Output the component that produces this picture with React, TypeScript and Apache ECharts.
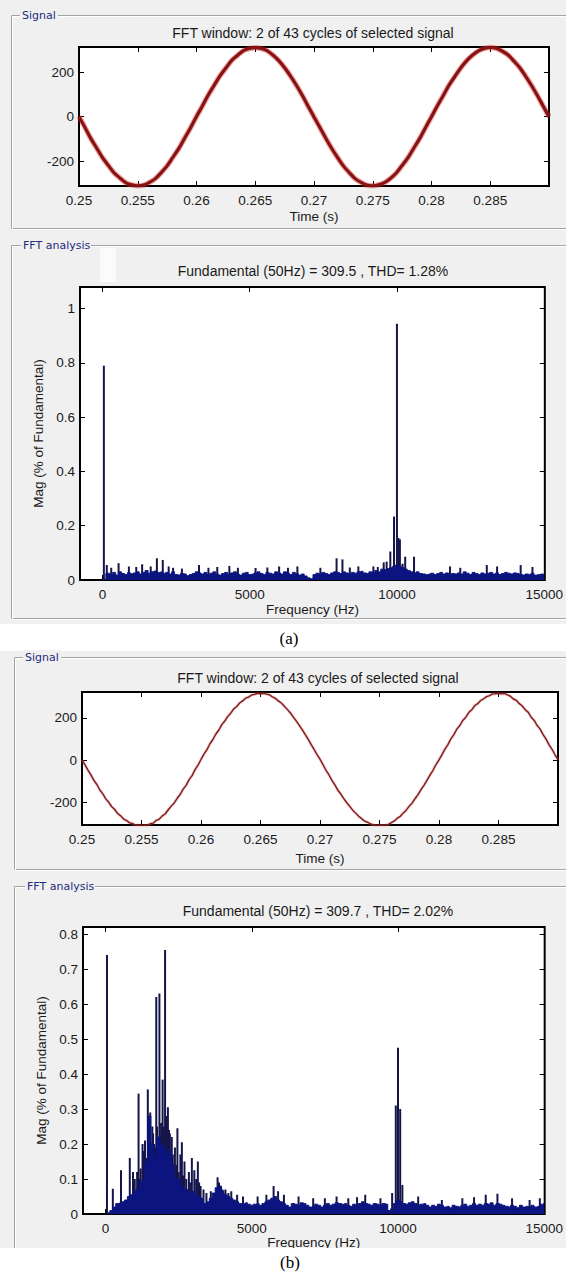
import React, { useEffect, useRef } from "react";
import * as echarts from "echarts";

// ---------- data ----------
const TIME_START = 0.25;
const TIME_STEP_A = 0.0005;
const TIME_STEP_B = 0.00025;
const TIME_TICKS = [0.25, 0.255, 0.26, 0.265, 0.27, 0.275, 0.28, 0.285];
const SIGNAL_TICKS = [-200, 0, 200];

// (a) signal, volts, one value every 0.5 ms from 0.25 s
const SIGNAL_A = [
  0, -47, -97, -140, -183, -218, -252, -275, -296, -305, -309,
  -306, -294, -277, -250, -220, -181, -142, -95, -49, 1,
  48, 97, 140, 183, 218, 252, 275, 296, 305, 309,
  305, 296, 276, 251, 219, 182, 141, 96, 47, -1,
  -48, -96, -141, -182, -220, -250, -277, -294, -306, -309,
  -305, -295, -276, -252, -218, -183, -140, -97, -48, 0,
  49, 95, 142, 181, 219, 251, 276, 295, 306, 310,
  306, 294, 277, 250, 220, 182, 141, 96, 48, 0,
];

// (b) signal, one value every 0.25 ms from 0.25 s
const SIGNAL_B = [
  2, -22, -46, -69, -95, -114, -140, -158, -182, -198, -219, -232, -251, -262, -277, -284, -295, -298, -306, -305, -309,
  -306, -307, -299, -296, -283, -277, -262, -252, -233, -216, -201, -179, -161, -136, -118, -91, -72, -44, -23, 4,
  29, 50, 78, 98, 124, 143, 168, 185, 207, 222, 242, 254, 270, 280, 293, 298, 308, 311, 316, 314,
  316, 312, 309, 299, 292, 280, 270, 255, 240, 224, 205, 186, 166, 145, 122, 100, 75, 52, 27, 5,
  -20, -47, -68, -95, -116, -141, -159, -181, -200, -217, -235, -249, -264, -275, -287, -292, -300, -305, -309, -306,
  -307, -305, -302, -294, -286, -273, -264, -248, -235, -216, -201, -180, -161, -137, -117, -93, -69, -47, -20, 2,
  27, 53, 74, 101, 121, 147, 164, 188, 203, 225, 238, 257, 267, 282, 290, 300, 305, 313, 314, 316,
  313, 315, 308, 302, 289, 283, 267, 256, 238, 226, 203, 188, 164, 147, 121, 100, 73, 52, 26, 3,
];

const FREQ_TICKS = [0, 5000, 10000, 15000];
const MAG_TICKS_A = [0, 0.2, 0.4, 0.6, 0.8, 1];
const MAG_TICKS_B = [0, 0.1, 0.2, 0.3, 0.4, 0.5, 0.6, 0.7, 0.8];

// spectrum floor, one value per 100 Hz bin starting at 100 Hz
const FLOOR_START = 100;
const FLOOR_STEP = 100;
const FLOOR_A = [
  0.022, 0.025, 0.02, 0.028, 0.018, 0.03, 0.024, 0.02, 0.027, 0.023,
  0.026, 0.03, 0.022, 0.028, 0.035, 0.025, 0.03, 0.033, 0.028, 0.03,
  0.025, 0.028, 0.022, 0.03, 0.02, 0.018, 0.024, 0.022, 0.016, 0.02,
  0.024, 0.03, 0.026, 0.022, 0.028, 0.02, 0.025, 0.03, 0.022, 0.018,
  0.024, 0.028, 0.02, 0.026, 0.03, 0.022, 0.018, 0.025, 0.028, 0.02,
  0.022, 0.026, 0.03, 0.024, 0.02, 0.028, 0.025, 0.022, 0.03, 0.026,
  0.022, 0.03, 0.026, 0.02, 0.028, 0.024, 0.018, 0.022, 0.015, 0.008,
  0.005, 0.02, 0.025, 0.022, 0.028, 0.024, 0.02, 0.026, 0.03, 0.028,
  0.024, 0.03, 0.026, 0.022, 0.028, 0.025, 0.03, 0.032, 0.026, 0.024,
  0.03, 0.028, 0.035, 0.03, 0.04, 0.038, 0.042, 0.045, 0.05, 0.055,
  0.05, 0.045, 0.04, 0.035, 0.03, 0.026, 0.03, 0.024, 0.022, 0.02,
  0.022, 0.025, 0.02, 0.024, 0.028, 0.022, 0.026, 0.02, 0.024, 0.022,
  0.026, 0.022, 0.03, 0.025, 0.02, 0.028, 0.024, 0.02, 0.026, 0.022,
  0.025, 0.028, 0.022, 0.026, 0.02, 0.024, 0.028, 0.025, 0.022, 0.026,
  0.024, 0.02, 0.018, 0.022, 0.02, 0.025, 0.018, 0.02, 0.022, 0.02,
];
const FLOOR_B = [
  0.005, 0.01, 0.02, 0.03, 0.032, 0.035, 0.04, 0.05, 0.055, 0.065,
  0.07, 0.09, 0.1, 0.15, 0.28, 0.2, 0.16, 0.22, 0.2, 0.19,
  0.17, 0.18, 0.14, 0.1, 0.1, 0.08, 0.07, 0.07, 0.06, 0.065,
  0.055, 0.05, 0.045, 0.03, 0.035, 0.045, 0.06, 0.075, 0.08, 0.065,
  0.055, 0.05, 0.045, 0.04, 0.035, 0.03, 0.03, 0.032, 0.028, 0.025,
  0.028, 0.03, 0.025, 0.03, 0.035, 0.04, 0.045, 0.05, 0.04, 0.035,
  0.03, 0.025, 0.02, 0.03, 0.028, 0.025, 0.032, 0.03, 0.025, 0.02,
  0.022, 0.028, 0.025, 0.02, 0.025, 0.03, 0.025, 0.028, 0.032, 0.03,
  0.028, 0.03, 0.025, 0.022, 0.028, 0.025, 0.03, 0.035, 0.03, 0.028,
  0.025, 0.03, 0.028, 0.025, 0.03, 0.028, 0.01, 0.015, 0.03, 0.04,
  0.035, 0.03, 0.028, 0.032, 0.035, 0.03, 0.025, 0.028, 0.03, 0.025,
  0.02, 0.025, 0.022, 0.028, 0.025, 0.02, 0.022, 0.018, 0.025, 0.022,
  0.02, 0.025, 0.028, 0.022, 0.025, 0.03, 0.025, 0.028, 0.025, 0.03,
  0.028, 0.032, 0.025, 0.03, 0.028, 0.025, 0.022, 0.02, 0.025, 0.022,
  0.018, 0.025, 0.02, 0.022, 0.02, 0.025, 0.02, 0.022, 0.028, 0.03,
];

// individual harmonic bars [frequency Hz, magnitude]
const SPIKES_A = [
  [50, 0.79], [150, 0.055], [300, 0.045], [550, 0.062], [900, 0.05], [1150, 0.048],
  [1350, 0.058], [1640, 0.05], [1850, 0.08], [2050, 0.074], [2250, 0.05], [2400, 0.045],
  [2700, 0.042], [3280, 0.055], [3600, 0.045], [3900, 0.048], [4310, 0.052], [4600, 0.045],
  [5200, 0.044], [5600, 0.046], [6000, 0.05], [6300, 0.045], [6620, 0.05], [7400, 0.045],
  [7950, 0.08], [8150, 0.076], [8400, 0.046], [8690, 0.05], [9200, 0.05], [9350, 0.048],
  [9550, 0.065], [9650, 0.068], [9775, 0.105], [9900, 0.234], [10000, 0.945], [10050, 0.155],
  [10100, 0.15], [10190, 0.06], [10280, 0.086], [10580, 0.086], [11800, 0.05], [12150, 0.045],
  [13050, 0.055], [13400, 0.05], [14200, 0.055], [14600, 0.048],
];
const SPIKES_B = [
  [50, 0.74], [250, 0.072], [530, 0.125], [830, 0.16], [940, 0.12], [1000, 0.1],
  [1080, 0.12], [1130, 0.344], [1170, 0.1], [1200, 0.13], [1265, 0.2], [1300, 0.18],
  [1350, 0.21], [1400, 0.16], [1446, 0.356], [1480, 0.2], [1530, 0.29], [1570, 0.17],
  [1600, 0.25], [1626, 0.23], [1660, 0.2], [1680, 0.16], [1700, 0.19], [1735, 0.62],
  [1760, 0.25], [1790, 0.22], [1843, 0.63], [1870, 0.22], [1900, 0.26], [1952, 0.384],
  [1980, 0.21], [2000, 0.25], [2036, 0.754], [2070, 0.28], [2100, 0.2], [2133, 0.305],
  [2170, 0.24], [2200, 0.23], [2265, 0.22], [2300, 0.17], [2373, 0.19], [2420, 0.14],
  [2458, 0.245], [2500, 0.12], [2560, 0.17], [2610, 0.205], [2650, 0.11], [2700, 0.15],
  [2760, 0.1], [2850, 0.12], [2900, 0.09], [2952, 0.16], [3036, 0.125], [3100, 0.1],
  [3157, 0.15], [3200, 0.09], [3250, 0.08], [3350, 0.07], [3450, 0.06], [3600, 0.065],
  [3700, 0.06], [3831, 0.105], [3880, 0.09], [3950, 0.08], [4000, 0.07], [4100, 0.07],
  [4200, 0.06], [4300, 0.065], [4500, 0.055], [4700, 0.05], [5200, 0.05], [5500, 0.055],
  [5747, 0.08], [5900, 0.065], [6100, 0.055], [6600, 0.05], [7100, 0.045], [7500, 0.045],
  [7900, 0.05], [8300, 0.045], [8600, 0.048], [8880, 0.055], [9400, 0.045], [9800, 0.06],
  [9925, 0.31], [10000, 0.475], [10075, 0.3], [10150, 0.083], [10690, 0.05], [11500, 0.04],
  [12200, 0.045], [12600, 0.048], [13000, 0.055], [13400, 0.058], [13900, 0.045], [14500, 0.04],
  [14850, 0.045],
];

// ---------- styling ----------
const FONT = "'Liberation Sans', Arial, Helvetica, sans-serif";
const PANEL_FONT = "'DejaVu Sans', Tahoma, sans-serif";
const FS = 13.5;
const TXT = "#1a1a1a";
const GRAY = "#f0f0f0";
const NAVY = "#0c1480";
const SPIKE = "#15154a";

const fmt = (v: number) => String(v);

function xMain(gridIndex: number, min: number, max: number, ticks: number[], name: string, nameGap: number) {
  return {
    type: "value", gridIndex, min, max, position: "bottom",
    name, nameLocation: "middle", nameGap,
    nameTextStyle: { fontFamily: FONT, fontSize: FS, color: TXT },
    axisLine: { show: false, onZero: false },
    axisTick: { show: true, inside: true, length: 5, customValues: ticks, lineStyle: { color: "#000", width: 1 } },
    axisLabel: { show: true, customValues: ticks, margin: 7, fontFamily: FONT, fontSize: FS, color: TXT, formatter: fmt },
    splitLine: { show: false },
  };
}
function xMirror(gridIndex: number, min: number, max: number, ticks: number[]) {
  return {
    type: "value", gridIndex, min, max, position: "top",
    axisLine: { show: false, onZero: false },
    axisTick: { show: true, inside: true, length: 5, customValues: ticks, lineStyle: { color: "#000", width: 1 } },
    axisLabel: { show: false },
    splitLine: { show: false },
  };
}
function yMain(gridIndex: number, min: number, max: number, ticks: number[], name: string, nameGap: number) {
  return {
    type: "value", gridIndex, min, max, position: "left",
    name, nameLocation: "middle", nameGap, nameRotate: 90,
    nameTextStyle: { fontFamily: FONT, fontSize: FS, color: TXT },
    axisLine: { show: false, onZero: false },
    axisTick: { show: true, inside: true, length: 5, customValues: ticks, lineStyle: { color: "#000", width: 1 } },
    axisLabel: { show: true, customValues: ticks, margin: 5, fontFamily: FONT, fontSize: FS, color: TXT, formatter: fmt },
    splitLine: { show: false },
  };
}
function yMirror(gridIndex: number, min: number, max: number, ticks: number[]) {
  return {
    type: "value", gridIndex, min, max, position: "right",
    axisLine: { show: false, onZero: false },
    axisTick: { show: true, inside: true, length: 5, customValues: ticks, lineStyle: { color: "#000", width: 1 } },
    axisLabel: { show: false },
    splitLine: { show: false },
  };
}

function frame(x: number, y: number, h: number) {
  return [
    { type: "rect", z: -9, silent: true, shape: { x: x + 0.5, y: y + 0.5, width: 700, height: h }, style: { fill: "none", stroke: "#a3a3a3", lineWidth: 1 } },
    { type: "rect", z: -9, silent: true, shape: { x: x + 1.5, y: y + 1.5, width: 700, height: h }, style: { fill: "none", stroke: "#ffffff", lineWidth: 1 } },
  ];
}
function panelLabel(x: number, y: number, text: string, w: number) {
  return [
    { type: "rect", z: -8, silent: true, shape: { x: x - 2, y: y - 7, width: w + 4, height: 14 }, style: { fill: GRAY } },
    { type: "text", z: -7, silent: true, x, y, style: { text, fontFamily: PANEL_FONT, fontSize: 11, fill: "#232a7e", textAlign: "left", textVerticalAlign: "middle" } },
  ];
}
function title(x: number, y: number, text: string) {
  return { type: "text", z: 5, silent: true, x, y, style: { text, fontFamily: FONT, fontSize: 14, fill: TXT, textAlign: "center", textVerticalAlign: "middle" } };
}

export default function App() {
  const ref = useRef<HTMLDivElement>(null);
  useEffect(() => {
    document.body.style.margin = "0";
    document.body.style.overflow = "hidden";
    const chart = echarts.init(ref.current!, null, { renderer: "svg" });
    const sigA = SIGNAL_A.map((v, i) => [TIME_START + i * TIME_STEP_A, v]);
    const sigB = SIGNAL_B.map((v, i) => [TIME_START + i * TIME_STEP_B, v]);
    const floorA = FLOOR_A.map((v, i) => [FLOOR_START + i * FLOOR_STEP, v]);
    const floorB = FLOOR_B.map((v, i) => [FLOOR_START + i * FLOOR_STEP, v]);

    const gridStyle = { show: true, backgroundColor: "#ffffff", borderColor: "#000000", borderWidth: 2, containLabel: false };

    chart.setOption({
      animation: false,
      backgroundColor: "#ffffff",
      grid: [
        { ...gridStyle, left: 79, top: 47, width: 470, height: 139 },
        { ...gridStyle, left: 80, top: 287, width: 469, height: 293 },
        { ...gridStyle, left: 82, top: 692, width: 476, height: 133 },
        { ...gridStyle, left: 83, top: 927, width: 472, height: 287 },
      ],
      xAxis: [
        xMain(0, 0.25, 0.29, TIME_TICKS, "Time (s)", 23),
        xMirror(0, 0.25, 0.29, TIME_TICKS),
        xMain(1, -760, 15020, FREQ_TICKS, "Frequency (Hz)", 22),
        xMirror(1, -760, 15020, FREQ_TICKS),
        xMain(2, 0.25, 0.29, TIME_TICKS, "Time (s)", 26),
        xMirror(2, 0.25, 0.29, TIME_TICKS),
        xMain(3, -770, 15015, FREQ_TICKS, "Frequency (Hz)", 21),
        xMirror(3, -770, 15015, FREQ_TICKS),
      ],
      yAxis: [
        yMain(0, -310, 312, SIGNAL_TICKS, "", 30),
        yMirror(0, -310, 312, SIGNAL_TICKS),
        yMain(1, 0, 1.08, MAG_TICKS_A, "Mag (% of Fundamental)", 32),
        yMirror(1, 0, 1.08, MAG_TICKS_A),
        yMain(2, -305, 322, SIGNAL_TICKS, "", 30),
        yMirror(2, -305, 322, SIGNAL_TICKS),
        yMain(3, 0, 0.82, MAG_TICKS_B, "Mag (% of Fundamental)", 30),
        yMirror(3, 0, 0.82, MAG_TICKS_B),
      ],
      series: [
        { type: "line", name: "signal a halo", xAxisIndex: 0, yAxisIndex: 0, data: sigA, symbol: "none", smooth: 0.3, lineStyle: { color: "rgba(215,40,40,0.4)", width: 5.5 }, silent: true },
        { type: "line", name: "signal a", xAxisIndex: 0, yAxisIndex: 0, data: sigA, symbol: "none", smooth: 0.3, lineStyle: { color: "#861212", width: 3.2 } },
        { type: "line", name: "spectrum a floor", xAxisIndex: 2, yAxisIndex: 2, data: floorA, step: "middle", symbol: "none", lineStyle: { color: NAVY, width: 1 }, areaStyle: { color: NAVY, opacity: 1 } },
        { type: "bar", name: "spectrum a", xAxisIndex: 2, yAxisIndex: 2, data: SPIKES_A, barWidth: 2, itemStyle: { color: SPIKE } },
        { type: "line", name: "signal b halo", xAxisIndex: 4, yAxisIndex: 4, data: sigB, symbol: "none", lineStyle: { color: "rgba(220,80,80,0.3)", width: 3 }, silent: true },
        { type: "line", name: "signal b", xAxisIndex: 4, yAxisIndex: 4, data: sigB, symbol: "none", lineStyle: { color: "#7e1c1c", width: 1.4 } },
        { type: "line", name: "spectrum b floor", xAxisIndex: 6, yAxisIndex: 6, data: floorB, step: "middle", symbol: "none", lineStyle: { color: NAVY, width: 1 }, areaStyle: { color: NAVY, opacity: 1 } },
        { type: "bar", name: "spectrum b", xAxisIndex: 6, yAxisIndex: 6, data: SPIKES_B, barWidth: 2, itemStyle: { color: SPIKE } },
      ],
      graphic: [
        { type: "rect", z: -10, silent: true, shape: { x: 0, y: 0, width: 566, height: 624 }, style: { fill: GRAY } },
        { type: "rect", z: -10, silent: true, shape: { x: 0, y: 651, width: 566, height: 597 }, style: { fill: GRAY } },
        ...frame(11, 15, 213),
        ...frame(11, 245, 373),
        ...frame(14, 657, 212),
        ...frame(14, 886, 500),
        ...panelLabel(22, 15, "Signal", 34),
        ...panelLabel(23, 245, "FFT analysis", 66),
        ...panelLabel(25, 657, "Signal", 34),
        ...panelLabel(27, 886, "FFT analysis", 66),
        { type: "rect", z: -6, silent: true, shape: { x: 100, y: 248, width: 16, height: 34 }, style: { fill: "#fbfbfb" } },
        title(313, 33, "FFT window: 2 of 43 cycles of selected signal"),
        title(313, 271, "Fundamental (50Hz) = 309.5 , THD= 1.28%"),
        title(318, 678, "FFT window: 2 of 43 cycles of selected signal"),
        title(318, 911, "Fundamental (50Hz) = 309.7 , THD= 2.02%"),
        { type: "text", z: 5, silent: true, x: 289, y: 638, style: { text: "(a)", fontFamily: "'Liberation Serif', 'Times New Roman', serif", fontSize: 17, fill: "#000", textAlign: "center", textVerticalAlign: "middle" } },
        { type: "rect", z: 100, silent: true, shape: { x: 0, y: 1248, width: 566, height: 30 }, style: { fill: "#ffffff" } },
        { type: "text", z: 101, silent: true, x: 290, y: 1262, style: { text: "(b)", fontFamily: "'Liberation Serif', 'Times New Roman', serif", fontSize: 17, fill: "#000", textAlign: "center", textVerticalAlign: "middle" } },
      ],
    });
    return () => chart.dispose();
  }, []);
  return <div ref={ref} style={{ position: "absolute", left: 0, top: 0, width: 566, height: 1272 }} />;
}
